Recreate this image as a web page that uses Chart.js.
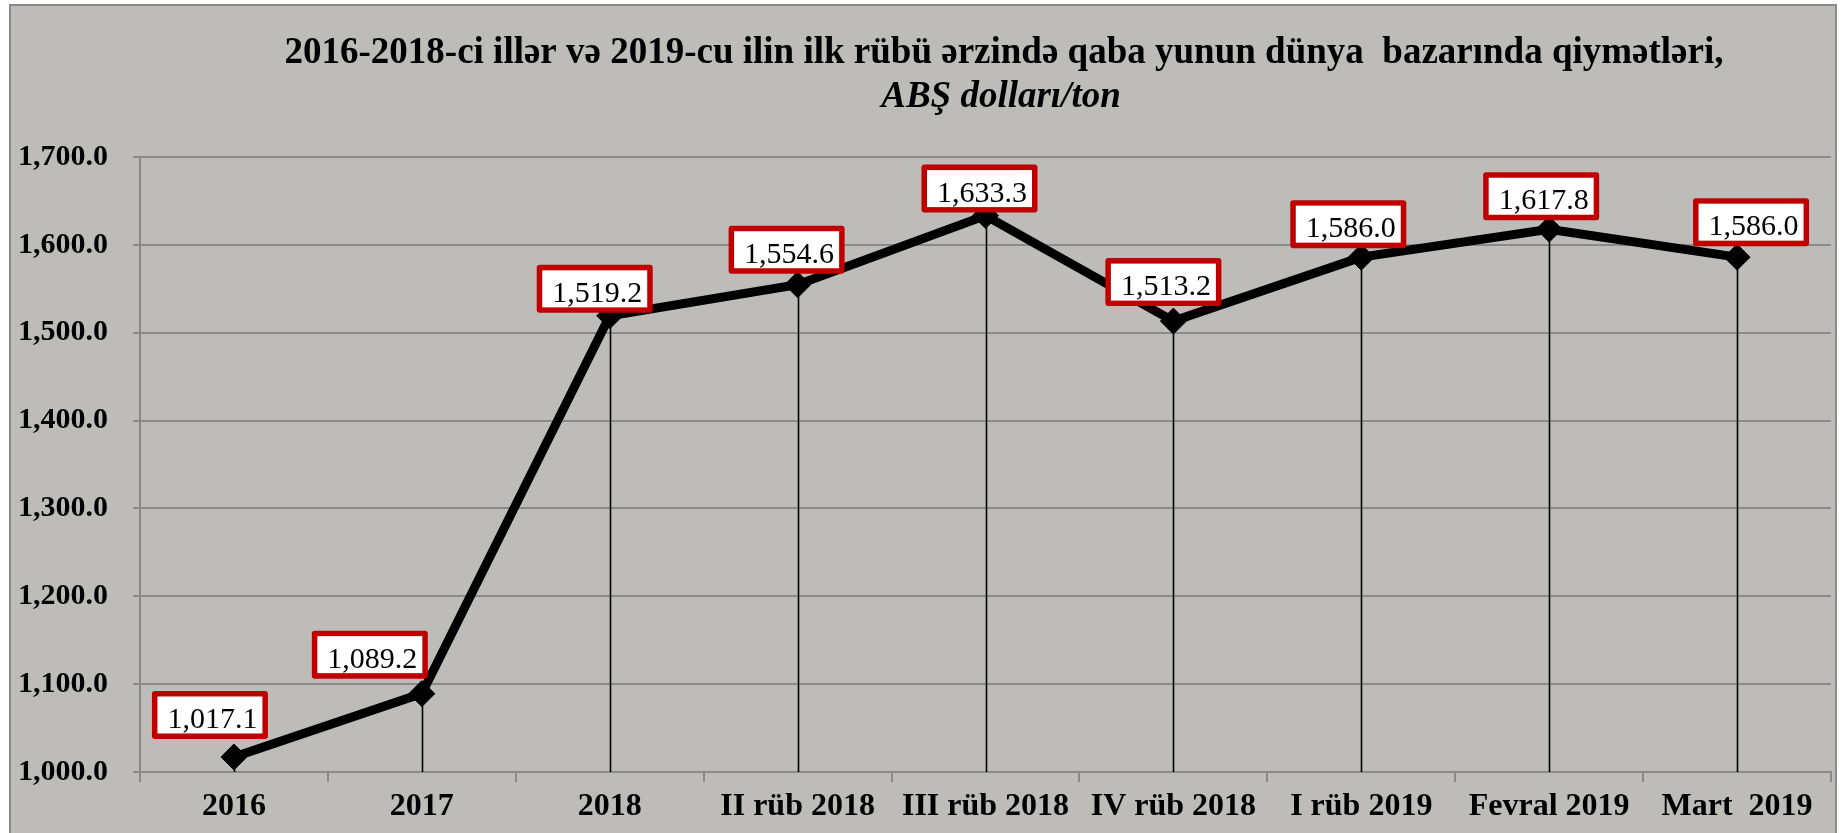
<!DOCTYPE html>
<html>
<head>
<meta charset="utf-8">
<script src="https://cdn.jsdelivr.net/npm/chart.js@4"></script>
<style>
    html, body {margin: 0; padding: 0; background: #fff;}
    #wrap {width: 1845px; height: 833px;}
</style>
</head>
<body>
<div id="wrap"><canvas id="priceChart" width="1845" height="833"></canvas></div>
<script>
const categories = ['2016', '2017', '2018', 'II rüb 2018', 'III rüb 2018', 'IV rüb 2018', 'I rüb 2019', 'Fevral 2019', 'Mart  2019'];
const prices = [1017.1, 1089.2, 1519.2, 1554.6, 1633.3, 1513.2, 1586.0, 1617.8, 1586.0];
const titleLines = ['2016-2018-ci illər və 2019-cu ilin ilk rübü ərzində qaba yunun dünya  bazarında qiymətləri,', 'ABŞ dolları/ton'];
const yMin = 1000;
const yMax = 1700;
const yStep = 100;

const SERIF = '"Liberation Serif", "Times New Roman", serif';
const fmt = v => Number(v).toLocaleString('en-US', {minimumFractionDigits: 1, maximumFractionDigits: 1});

// label boxes are nudged like in the original (dx, gap above the point)
const boxShift = [-24, -52, -15, -11, -6, -10, -13, -8, 14];
const boxGap = [18, 15, 3, 11, 3, 15, 9, 9, 11];

const framePlugin = {
    id: 'frame',
    beforeDraw(chart) {
        const ctx = chart.ctx;
        ctx.save();
        ctx.fillStyle = '#ffffff';
        ctx.fillRect(0, 0, chart.width, chart.height);
        ctx.fillStyle = '#bdbcb8';
        ctx.fillRect(10, 5, 1826, chart.height - 5);
        ctx.strokeStyle = '#8a8a8a';
        ctx.lineWidth = 2;
        ctx.beginPath();
        ctx.moveTo(10, chart.height);
        ctx.lineTo(10, 5);
        ctx.lineTo(1836, 5);
        ctx.lineTo(1836, chart.height);
        ctx.stroke();

        // title
        ctx.fillStyle = '#000';
        ctx.textAlign = 'center';
        ctx.textBaseline = 'alphabetic';
        ctx.font = 'bold 37px ' + SERIF;
        ctx.fillText(titleLines[0], 1004, 63);
        ctx.font = 'italic bold 37px ' + SERIF;
        ctx.fillText(titleLines[1], 1001, 107);
        ctx.restore();
    }
};

const dropLinesPlugin = {
    id: 'dropLines',
    beforeDatasetsDraw(chart) {
        const ctx = chart.ctx;
        const meta = chart.getDatasetMeta(0);
        const bottom = chart.chartArea.bottom;
        ctx.save();
        ctx.strokeStyle = '#000';
        ctx.lineWidth = 1.6;
        meta.data.forEach(pt => {
            ctx.beginPath();
            ctx.moveTo(Math.round(pt.x) + 0.5, pt.y);
            ctx.lineTo(Math.round(pt.x) + 0.5, bottom);
            ctx.stroke();
        });
        ctx.restore();
    }
};

const boxLabelsPlugin = {
    id: 'boxLabels',
    afterDatasetsDraw(chart) {
        const ctx = chart.ctx;
        const meta = chart.getDatasetMeta(0);
        const w = 116, h = 48, bw = 5.5;
        ctx.save();
        meta.data.forEach((pt, i) => {
            let x = pt.x + boxShift[i] - w / 2;
            const y = pt.y - boxGap[i] - h;
            ctx.fillStyle = '#c00000';
            ctx.beginPath();
            ctx.roundRect(x, y, w, h, 3);
            ctx.fill();
            ctx.fillStyle = '#ffffff';
            ctx.fillRect(x + bw, y + bw, w - 2 * bw, h - 2 * bw);
            ctx.fillStyle = '#000';
            ctx.font = '30px ' + SERIF;
            ctx.textAlign = 'right';
            ctx.textBaseline = 'alphabetic';
            ctx.fillText(fmt(prices[i]), x + w - bw - 5, y + h - 11);
        });
        ctx.restore();
    }
};

const ctx = document.getElementById('priceChart');

new Chart(ctx, {
    type: 'line',
    data: {
        labels: categories,
        datasets: [{
            data: prices,
            borderColor: '#000',
            borderWidth: 9,
            tension: 0,
            pointStyle: 'rectRot',
            pointRadius: 13,
            pointBackgroundColor: '#000',
            pointBorderColor: '#000',
            pointBorderWidth: 1
        }]
    },
    options: {
        responsive: false,
        animation: false,
        devicePixelRatio: 1,
        layout: {padding: {left: 0, top: 157, right: 12, bottom: 0}},
        plugins: {
            legend: {display: false},
            title: {display: false},
            tooltip: {enabled: false}
        },
        scales: {
            x: {
                offset: true,
                afterFit: s => { s.height = 61; },
                grid: {
                    offset: true,
                    drawOnChartArea: false,
                    drawTicks: true,
                    tickLength: 10,
                    color: '#8a8a8a',
                    lineWidth: 2
                },
                border: {display: true, color: '#8a8a8a', width: 2},
                ticks: {
                    color: '#000',
                    padding: 6,
                    maxRotation: 0,
                    autoSkip: false,
                    font: {family: SERIF, size: 32, weight: 'bold'}
                }
            },
            y: {
                min: yMin,
                max: yMax,
                afterFit: s => { s.width = 140; },
                grid: {
                    color: '#8a8a8a',
                    lineWidth: 2,
                    tickLength: 7
                },
                border: {display: true, color: '#8a8a8a', width: 2},
                ticks: {
                    stepSize: yStep,
                    color: '#000',
                    padding: 25,
                    font: {family: SERIF, size: 30, weight: 'bold'},
                    callback: v => fmt(v)
                }
            }
        }
    },
    plugins: [framePlugin, dropLinesPlugin, boxLabelsPlugin]
});
</script>
</body>
</html>
